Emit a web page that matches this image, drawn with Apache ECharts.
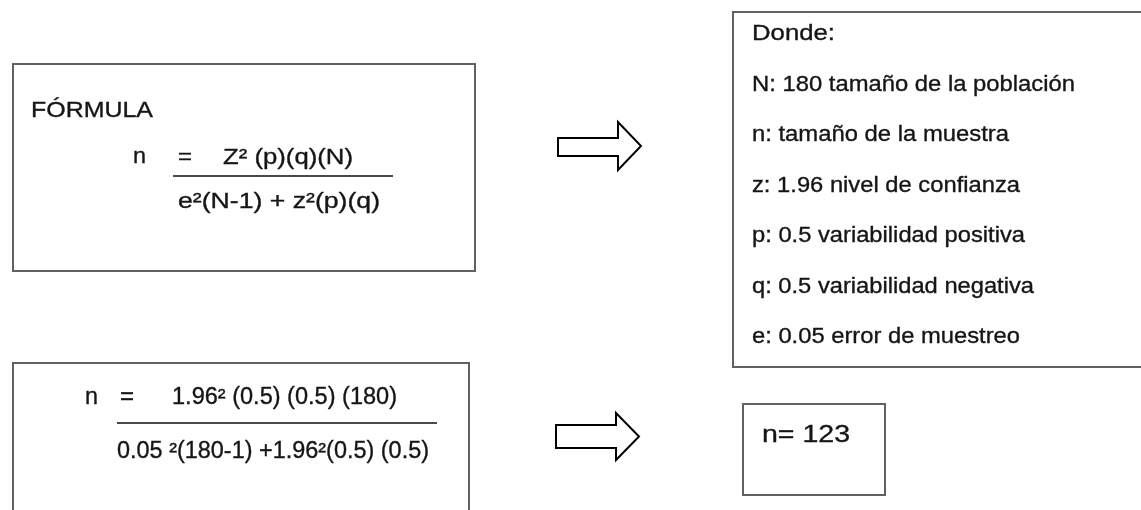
<!DOCTYPE html>
<html>
<head>
<meta charset="utf-8">
<script src="https://cdn.jsdelivr.net/npm/echarts@6/dist/echarts.min.js"></script>
<style>
html,body{margin:0;padding:0;background:#fff;}
#main{width:1141px;height:510px;}
</style>
</head>
<body>
<div id="main"></div>
<script>
// ---- content (text of the diagram) ----
const formulaTitle = 'FÓRMULA';
const generalLhs = ['n', '='];
const generalNumerator = 'Z² (p)(q)(N)';
const generalDenominator = 'e²(N-1) + z²(p)(q)';
const appliedLhs = ['n', '='];
const appliedNumerator = '1.96² (0.5) (0.5) (180)';
const appliedDenominator = '0.05 ²(180-1) +1.96²(0.5) (0.5)';
const legendLines = [
  'Donde:',
  'N: 180 tamaño de la población',
  'n: tamaño de la muestra',
  'z: 1.96 nivel de confianza',
  'p: 0.5 variabilidad positiva',
  'q: 0.5 variabilidad negativa',
  'e: 0.05 error de muestreo'
];
const resultText = 'n= 123';

// ---- layout ----
const FAMILY = 'Liberation Sans';
const TEXT_COLOR = '#151515';
const BORDER = '#616161';

const legendWidths = [83, 323, 257, 268, 273, 282, 268];
const textSpecs = [
  {t: formulaTitle, x: 31, y: 111, fs: 22, w: 122},
  {t: generalLhs[0], x: 133, y: 157, fs: 22, w: 13},
  {t: generalLhs[1], x: 178, y: 157.5, fs: 22, w: 14},
  {t: generalNumerator, x: 223, y: 157.5, fs: 22, w: 130},
  {t: generalDenominator, x: 178, y: 201.5, fs: 22, w: 202},
  {t: appliedLhs[0], x: 85, y: 398, fs: 23, w: 13},
  {t: appliedLhs[1], x: 120, y: 398, fs: 23, w: 14},
  {t: appliedNumerator, x: 172, y: 398, fs: 23, w: 225},
  {t: appliedDenominator, x: 117, y: 452, fs: 23, w: 312},
  {t: resultText, x: 762, y: 435.5, fs: 24, w: 88}
];
legendLines.forEach((line, i) => {
  textSpecs.push({t: line, x: 752, y: 34 + i * 50.5, fs: 22.5, w: legendWidths[i]});
});

// horizontal stretch needed to reach each measured width
const measureCtx = document.createElement('canvas').getContext('2d');
function stretchFor(s) {
  measureCtx.font = s.fs + 'px "' + FAMILY + '"';
  const natural = measureCtx.measureText(s.t).width;
  return natural > 0 ? s.w / natural : 1;
}

const graphics = [];
function rect(x, y, w, h) {
  graphics.push({type: 'rect', silent: true, shape: {x, y, width: w, height: h},
    style: {fill: '#fff', stroke: BORDER, lineWidth: 2}});
}
function hline(x1, x2, y) {
  graphics.push({type: 'line', silent: true, shape: {x1, y1: y, x2, y2: y},
    style: {stroke: '#4a4a4a', lineWidth: 2}});
}
function arrow(x0, xb, xt, sTop, sBot, hTop, hBot) {
  const tipY = (hTop + hBot) / 2;
  graphics.push({type: 'polygon', silent: true,
    shape: {points: [[x0, sTop], [xb, sTop], [xb, hTop], [xt, tipY], [xb, hBot], [xb, sBot], [x0, sBot]]},
    style: {fill: '#fff', stroke: '#000', lineWidth: 2, lineJoin: 'miter'}});
}

rect(13, 64, 462, 207);
rect(13, 363, 456, 170);
rect(733, 12, 420, 355);
rect(743, 404, 142, 91);
hline(173, 393, 176);
hline(117, 437, 423);
arrow(558, 618, 641, 138, 156, 122, 170);
arrow(556, 616, 639, 425, 448, 413, 460);

textSpecs.forEach(s => {
  graphics.push({type: 'text', silent: true, x: s.x, y: s.y, scaleX: stretchFor(s),
    style: {text: s.t, fontSize: s.fs, fontFamily: FAMILY, fill: TEXT_COLOR,
      stroke: TEXT_COLOR, lineWidth: 0.35,
      textAlign: 'left', textVerticalAlign: 'middle'}});
});

const chart = echarts.init(document.getElementById('main'), null, {renderer: 'canvas', width: 1141, height: 510});
chart.setOption({
  backgroundColor: '#fff',
  animation: false,
  graphic: {elements: graphics}
});
</script>
</body>
</html>
